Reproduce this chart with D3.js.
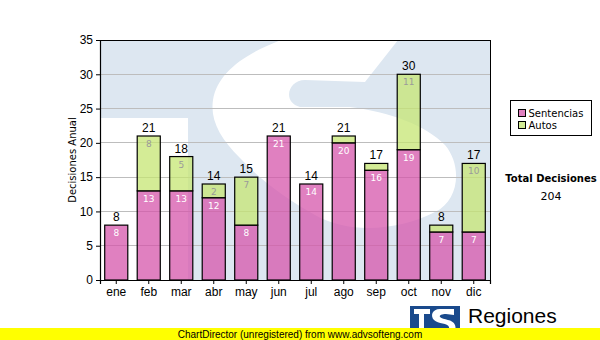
<!DOCTYPE html>
<html>
<head>
<meta charset="utf-8">
<script src="https://cdn.jsdelivr.net/npm/d3@7"></script>
<style>
  html, body { margin: 0; padding: 0; background: #fff; }
  svg { display: block; }
</style>
</head>
<body>
<svg id="chart" width="600" height="340"></svg>
<script>
// Monthly decisions, stacked by type
const months = ["ene", "feb", "mar", "abr", "may", "jun", "jul", "ago", "sep", "oct", "nov", "dic"];
const sentencias = [8, 13, 13, 12, 8, 21, 14, 20, 16, 19, 7, 7];
const autos = [0, 8, 5, 2, 7, 0, 0, 1, 1, 11, 1, 10];
const seriesNames = ["Sentencias", "Autos"];
const yTicks = [0, 5, 10, 15, 20, 25, 30, 35];

const colors = { Sentencias: "rgb(214,86,171)", Autos: "rgb(198,230,115)" };
const barOpacity = 0.75;
const wmBlue = "#dde7f1";

const svg = d3.select("#chart");
const W = 600, H = 340;
const m = { left: 100, top: 40, right: 110, bottom: 60 };
const pw = W - m.left - m.right;   // 390
const ph = H - m.top - m.bottom;   // 240

const rows = months.map((mo, i) => ({ month: mo, Sentencias: sentencias[i], Autos: autos[i] }));
const stacked = d3.stack().keys(seriesNames)(rows);
const totals = rows.map(r => r.Sentencias + r.Autos);
const grandTotal = d3.sum(totals);

const x = d3.scaleBand().domain(months).range([0, pw]).paddingInner(0.29).paddingOuter(0.145);
const y = d3.scaleLinear().domain([0, 35]).range([ph, 0]);

const g = svg.append("g").attr("transform", `translate(${m.left},${m.top})`);

// Large faded logo behind the plot
const clip = svg.append("defs").append("clipPath").attr("id", "plotClip");
clip.append("rect").attr("width", pw).attr("height", ph);
const wm = g.append("g").attr("clip-path", "url(#plotClip)");
wm.append("rect").attr("width", pw).attr("height", ph).attr("fill", wmBlue);
// area under the T crossbar
wm.append("rect").attr("x", -5).attr("y", 78).attr("width", 93).attr("height", 170).attr("fill", "#fff");
// the S
wm.append("path").attr("fill", "#fff").attr("d",
  "M195,-5 L302,-5 L265,42 L205,40 C188,40 182,62 200,67 L250,67 " +
  "C290,72 325,85 345,105 C362,125 360,160 335,172 C300,190 250,195 215,175 " +
  "C185,158 160,140 140,118 C120,98 110,80 113,60 C118,30 150,10 195,-5 Z");

// Grid lines
g.append("g").selectAll("line").data(yTicks.filter(t => t > 0)).join("line")
  .attr("x1", 0).attr("x2", pw)
  .attr("y1", d => y(d)).attr("y2", d => y(d))
  .attr("stroke", "#bdbdbd").attr("stroke-width", 1).attr("shape-rendering", "crispEdges");

// Plot frame
g.append("rect").attr("width", pw).attr("height", ph)
  .attr("fill", "none").attr("stroke", "#000").attr("stroke-width", 1).attr("shape-rendering", "crispEdges");

// Bars
const layer = g.append("g").selectAll("g").data(stacked).join("g")
  .attr("fill", d => colors[d.key]);
layer.selectAll("rect").data(d => d.filter(s => s[1] > s[0])).join("rect")
  .attr("x", d => x(d.data.month))
  .attr("y", d => y(d[1]))
  .attr("width", x.bandwidth())
  .attr("height", d => y(d[0]) - y(d[1]))
  .attr("fill-opacity", barOpacity)
  .attr("stroke", "#000").attr("stroke-width", 1.2);

// Segment labels
stacked.forEach(s => {
  g.append("g").selectAll("text").data(s.filter(d => d[1] - d[0] >= 2)).join("text")
    .attr("x", d => x(d.data.month) + x.bandwidth() / 2)
    .attr("y", d => y(d[1]) + 11)
    .attr("text-anchor", "middle")
    .attr("font-family", "DejaVu Sans, Verdana, sans-serif")
    .attr("font-size", 9)
    .attr("fill", s.key === "Sentencias" ? "#fff" : "#9a9a9a")
    .text(d => d[1] - d[0]);
});

// Totals above bars
g.append("g").selectAll("text").data(rows).join("text")
  .attr("x", d => x(d.month) + x.bandwidth() / 2)
  .attr("y", (d, i) => y(totals[i]) - 4)
  .attr("text-anchor", "middle")
  .attr("font-family", "Liberation Sans, Arial, sans-serif")
  .attr("font-size", 12)
  .attr("fill", "#000")
  .text((d, i) => totals[i]);

// Axes
const yAxis = g.append("g").call(d3.axisLeft(y).tickValues(yTicks).tickSize(4).tickPadding(3));
const xAxis = g.append("g").attr("transform", `translate(0,${ph})`)
  .call(d3.axisBottom(x).tickSize(4).tickPadding(3));
[yAxis, xAxis].forEach(a => {
  a.selectAll("text").attr("font-family", "Liberation Sans, Arial, sans-serif").attr("font-size", 12).attr("fill", "#000");
  a.selectAll("line").attr("stroke", "#000");
  a.select(".domain").attr("stroke", "#000").attr("stroke-width", 1.2);
});

// Y axis title
svg.append("text")
  .attr("transform", `translate(76,${m.top + ph / 2}) rotate(-90)`)
  .attr("text-anchor", "middle")
  .attr("font-family", "DejaVu Sans, Verdana, sans-serif")
  .attr("font-size", 10)
  .text("Decisiones Anual");

// Legend
const lg = svg.append("g").attr("transform", "translate(510.5,100.5)");
lg.append("rect").attr("width", 81).attr("height", 35).attr("fill", "#fff").attr("stroke", "#000");
seriesNames.forEach((name, i) => {
  lg.append("rect").attr("x", 8).attr("y", 9 + i * 12).attr("width", 7).attr("height", 7)
    .attr("fill", colors[name]).attr("fill-opacity", barOpacity).attr("stroke", "#000");
  lg.append("text").attr("x", 18).attr("y", 16.5 + i * 12)
    .attr("font-family", "DejaVu Sans, Verdana, sans-serif").attr("font-size", 10)
    .text(name);
});

// Grand total
svg.append("text").attr("x", 551).attr("y", 182).attr("text-anchor", "middle")
  .attr("font-family", "DejaVu Sans, Verdana, sans-serif").attr("font-size", 10).attr("font-weight", "bold")
  .text("Total Decisiones");
svg.append("text").attr("x", 551).attr("y", 200).attr("text-anchor", "middle")
  .attr("font-family", "DejaVu Sans, Verdana, sans-serif").attr("font-size", 11)
  .text(grandTotal);

// Footer logo
const logo = svg.append("g").attr("transform", "translate(410,306)");
logo.append("rect").attr("width", 50).attr("height", 34).attr("fill", "#1a4a8c");
logo.append("path").attr("fill", "#fff").attr("d",
  "M4,3 L20,3 L20,8 L14,8 L14,34 L9,34 L9,8 L4,8 Z");
logo.append("path").attr("fill", "#fff").attr("d",
  "M44,3 L30,3 C22,3 20,10 24,14 C28,18 38,17 39,21 C40,25 34,26 30,25 L22,23 L22,30 L32,31 C44,31 47,24 45,19 C43,13 33,14 30,11 C29,9 32,8 36,8 L44,9 Z");
svg.append("text").attr("x", 468).attr("y", 323)
  .attr("font-family", "Liberation Sans, Arial, sans-serif").attr("font-size", 21)
  .text("Regiones");
svg.append("text").attr("x", 468).attr("y", 335)
  .attr("font-family", "Liberation Sans, Arial, sans-serif").attr("font-size", 9)
  .text("Tribunal Supremo de Justicia");

// Footer banner
svg.append("rect").attr("x", 0).attr("y", 328).attr("width", W).attr("height", 12).attr("fill", "#ffff00");
svg.append("text").attr("x", 300).attr("y", 337.5).attr("text-anchor", "middle")
  .attr("font-family", "Liberation Sans, Arial, sans-serif").attr("font-size", 10)
  .text("ChartDirector (unregistered) from www.advsofteng.com");
</script>
</body>
</html>
